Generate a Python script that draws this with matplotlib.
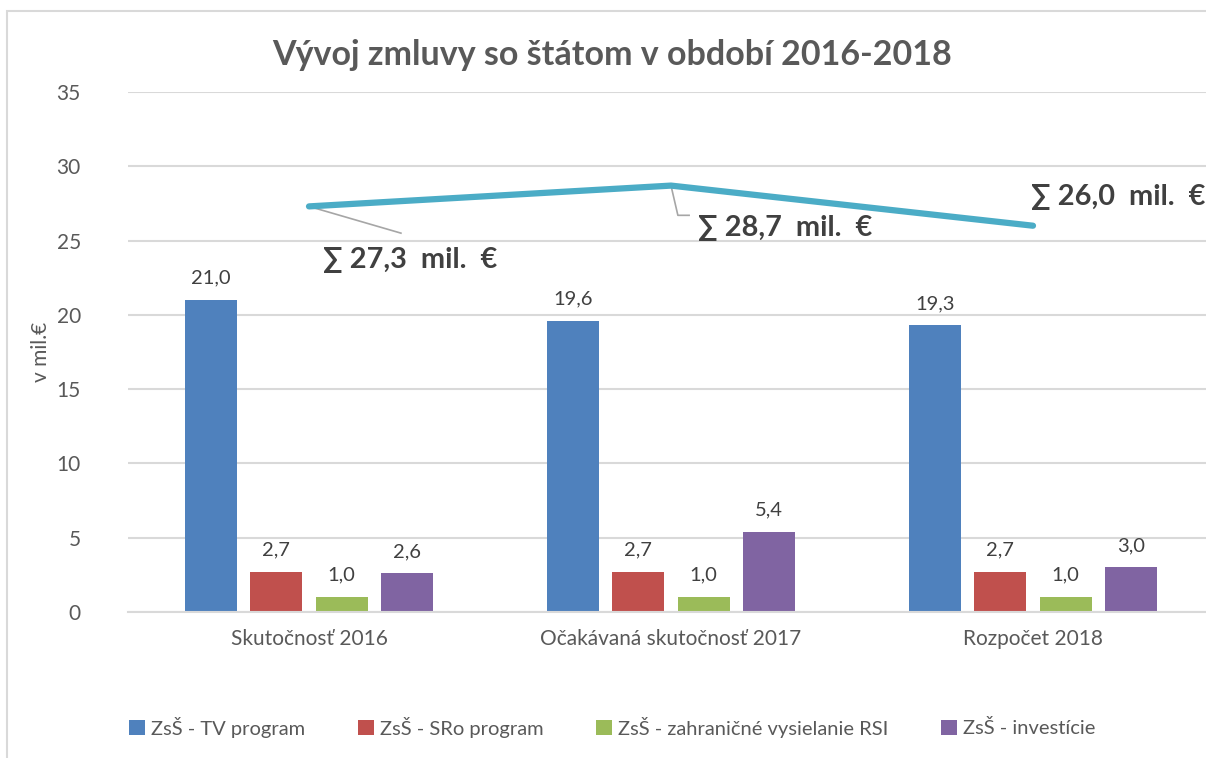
import matplotlib.pyplot as plt
import matplotlib.patches as patches
import numpy as np

plt.rcParams['font.family'] = ['Lato', 'DejaVu Sans']

# Data
categories = ['Skutočnosť 2016', 'Očakávaná skutočnosť 2017', 'Rozpočet 2018']
series_names = ['ZsŠ - TV program', 'ZsŠ - SRo program',
                'ZsŠ - zahraničné vysielanie RSI', 'ZsŠ - investície']
tv_program = [21.0, 19.6, 19.3]
sro_program = [2.7, 2.7, 2.7]
rsi = [1.0, 1.0, 1.0]
investicie = [2.6, 5.4, 3.0]
totals = [27.3, 28.7, 26.0]

colors = ['#4F81BD', '#C0504D', '#9BBB59', '#8064A2']
line_color = '#4BACC6'
text_color = '#595959'
grid_color = '#D9D9D9'

W, H = 1206, 758
fig = plt.figure(figsize=(W / 100, H / 100), dpi=100)

# chart border (cropped at right/bottom)
fig.patches.append(patches.Rectangle((7 / W, -0.1), 1.2, 1.1 - 11 / H,
                                     transform=fig.transFigure, fill=False,
                                     edgecolor=grid_color, linewidth=1.5))

ax = fig.add_axes([128 / W, (H - 612) / H, (1214 - 128) / W, (612 - 92) / H])

x = np.arange(len(categories))
step = 0.181
width = 0.1437
all_series = [tv_program, sro_program, rsi, investicie]
for i, (vals, col, name) in enumerate(zip(all_series, colors, series_names)):
    bars = ax.bar(x + (i - 1.5) * step, vals, width, color=col, label=name, zorder=2)
    for b, v in zip(bars, vals):
        ax.text(b.get_x() + b.get_width() / 2, v + 0.9, f'{v:.1f}'.replace('.', ','),
                ha='center', va='bottom', fontsize=14.5, color='#404040')

# total line
ax.plot(x, totals, color=line_color, linewidth=4.5, solid_capstyle='round', zorder=3)

# total labels with leader lines
ax.plot([0, 0.254], [totals[0], 25.5], color='#A6A6A6', linewidth=1.2, zorder=2)
ax.text(0.04, 23.7, '∑ 27,3  mil.  €', fontsize=20.8, fontweight='bold',
        color='#404040', va='center', ha='left')
ax.plot([1, 1.019, 1.05], [totals[1], 26.7, 26.7], color='#A6A6A6', linewidth=1.2, zorder=2)
ax.text(1.075, 25.85, '∑ 28,7  mil.  €', fontsize=20.8, fontweight='bold',
        color='#404040', va='center', ha='left')
ax.text(1.994, 27.93, '∑ 26,0  mil.  €', fontsize=20.8, fontweight='bold',
        color='#404040', va='center', ha='left')

ax.set_xlim(-0.5, 2.5)
ax.set_ylim(0, 35)
ax.set_yticks(range(0, 36, 5))
ax.set_xticks(x)
ax.set_xticklabels(categories)
ax.grid(axis='y', color=grid_color, linewidth=1.5, zorder=0)
ax.set_axisbelow(True)
for s in ['top', 'right', 'left']:
    ax.spines[s].set_visible(False)
ax.spines['bottom'].set_color(grid_color)
ax.spines['bottom'].set_linewidth(1.5)
ax.tick_params(axis='both', length=0, labelsize=15, colors=text_color)
ax.tick_params(axis='y', pad=34)
ax.tick_params(axis='x', pad=12)
ax.set_ylabel('v mil.€', fontsize=15, color=text_color, labelpad=4)

fig.text(612 / W, 1 - 55 / H, 'Vývoj zmluvy so štátom v období 2016-2018',
         ha='center', va='center', fontsize=24.5, fontweight='bold', color=text_color)

handles, labels = ax.get_legend_handles_labels()
fig.legend(handles, labels, loc='center', bbox_to_anchor=(612 / W, 1 - 727 / H),
           ncol=4, frameon=False, fontsize=14.5, labelcolor=text_color,
           handlelength=0.8, handleheight=0.8, handletextpad=0.3, columnspacing=2.6)

fig.savefig('out.png', dpi=100)
